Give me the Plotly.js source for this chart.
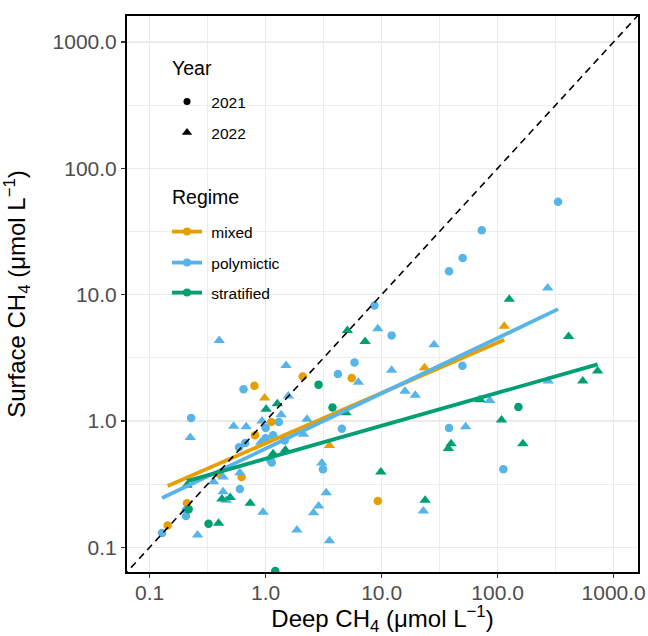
<!DOCTYPE html>
<html>
<head>
<meta charset="utf-8">
<script src="https://cdn.plot.ly/plotly-3.0.1.min.js"></script>
<style>html,body{margin:0;padding:0;background:#fff;}#chart{width:648px;height:636px;}</style>
</head>
<body>
<div id="chart"></div>
<script>
// ---- data ----
const mixed2021_x = [0.80, 1.12, 0.81, 0.62, 0.40, 0.21, 0.143, 2.09, 5.53, 9.27];
const mixed2021_y = [1.90, 0.98, 0.77, 0.36, 0.38, 0.223, 0.149, 2.25, 2.19, 0.233];
const mixed2022_x = [0.98, 23.4, 3.55, 114];
const mixed2022_y = [1.52, 2.64, 0.64, 5.63];

const poly2021_x = [0.645, 1.30, 1.0, 0.228, 0.59, 0.667, 1.0, 1.16, 1.13, 1.10, 1.46, 0.60, 0.206, 0.206, 0.128, 8.67, 12.2, 5.84, 4.2, 49.7, 4.54, 38.1, 3.12, 332, 73, 50, 38.1, 112];
const poly2021_y = [1.78, 0.98, 0.88, 1.055, 0.62, 0.67, 0.73, 0.77, 0.47, 0.49, 0.70, 0.29, 0.197, 0.177, 0.130, 8.2, 4.75, 2.91, 2.35, 2.74, 0.87, 0.88, 0.415, 54.4, 32.3, 19.5, 15.3, 0.415];
const poly2022_x = [0.398, 1.50, 1.57, 1.36, 0.53, 0.68, 0.93, 0.224, 0.91, 0.60, 0.43, 0.356, 0.43, 0.458, 0.95, 0.259, 1.86, 9.27, 28.3, 6.3, 12.2, 15.9, 19.5, 2.27, 2.12, 53, 3.05, 3.33, 2.86, 2.59, 3.55, 22.9, 270, 273, 85.5];
const poly2022_y = [4.34, 2.75, 1.58, 1.12, 0.91, 0.90, 1.0, 0.74, 0.68, 0.39, 0.36, 0.33, 0.275, 0.236, 0.19, 0.125, 0.137, 5.37, 4.01, 2.03, 2.52, 1.72, 1.60, 1.03, 0.785, 0.90, 0.466, 0.27, 0.212, 0.1875, 0.113, 0.194, 11.3, 2.07, 1.45];

const strat2021_x = [2.86, 3.77, 0.217, 0.322, 1.21, 151];
const strat2021_y = [1.94, 1.28, 0.20, 0.154, 0.065, 1.29];
const strat2022_x = [1.01, 1.26, 1.16, 1.48, 0.21, 0.42, 0.495, 0.736, 0.393, 5.07, 7.2, 4.92, 9.84, 23.7, 39.7, 37.6, 126, 409, 728, 542, 70.5, 108, 165];
const strat2022_y = [1.24, 1.37, 0.55, 0.59, 0.31, 0.241, 0.248, 0.223, 0.155, 5.2, 4.26, 1.16, 0.395, 0.236, 0.66, 0.605, 9.2, 4.66, 2.49, 2.07, 1.47, 1.02, 0.66];

// log-log linear fits per regime: log10(y) = intercept + slope * log10(x)
const regimes = ['mixed', 'polymictic', 'stratified'];
const fit_intercept = [-0.177, -0.219, -0.299];
const fit_slope = [0.399, 0.438, 0.261];

const years = ['2021', '2022'];
const tick_vals = [0.1, 1, 10, 100, 1000];
const tick_text = ['0.1', '1.0', '10.0', '100.0', '1000.0'];

// ---- styling ----
const regimeColor = {mixed: '#E69F00', polymictic: '#56B4E9', stratified: '#009E73'};
const FONT = '"Liberation Sans", Arial, Helvetica, sans-serif';
const groups = [
  {reg: 'mixed', yr: '2021', x: mixed2021_x, y: mixed2021_y},
  {reg: 'mixed', yr: '2022', x: mixed2022_x, y: mixed2022_y},
  {reg: 'polymictic', yr: '2021', x: poly2021_x, y: poly2021_y},
  {reg: 'polymictic', yr: '2022', x: poly2022_x, y: poly2022_y},
  {reg: 'stratified', yr: '2021', x: strat2021_x, y: strat2021_y},
  {reg: 'stratified', yr: '2022', x: strat2022_x, y: strat2022_y}
];

const traces = [];
groups.forEach(g => {
  const tri = g.yr === '2022';
  traces.push({
    type: 'scatter', mode: 'markers', x: g.x, y: g.y, showlegend: false, hoverinfo: 'skip',
    marker: {symbol: tri ? 'triangle-up' : 'circle', size: tri ? 10 : 8.5, color: regimeColor[g.reg], line: {width: 0}}
  });
});

// fit lines over each regime's x range
regimes.forEach((r, i) => {
  const xs = groups.filter(g => g.reg === r).reduce((a, g) => a.concat(g.x), []);
  const xmin = Math.min(...xs), xmax = Math.max(...xs);
  const fx = [xmin, xmax];
  const fy = fx.map(v => Math.pow(10, fit_intercept[i] + fit_slope[i] * Math.log10(v)));
  traces.push({type: 'scatter', mode: 'lines', x: fx, y: fy, showlegend: false, hoverinfo: 'skip',
    line: {color: regimeColor[r], width: 3.8}});
});

// 1:1 reference line
traces.push({type: 'scatter', mode: 'lines', x: [0.01, 100000], y: [0.01, 100000], showlegend: false, hoverinfo: 'skip',
  line: {color: 'black', width: 1.6, dash: '7px,5px'}});

// legend-only traces
const legendNames = ['legend', 'legend2', 'legend3', 'legend4', 'legend5'];
const NB = '\u00A0';
years.forEach((yr, i) => {
  traces.push({type: 'scatter', mode: 'markers', x: [null], y: [null], name: NB + yr, legend: legendNames[i], showlegend: true,
    marker: {symbol: i === 0 ? 'circle' : 'triangle-up', size: i === 0 ? 7 : 9, color: 'black'}});
});
regimes.forEach((r, i) => {
  traces.push({type: 'scatter', mode: 'lines+markers', x: [null], y: [null], name: NB + r, legend: legendNames[2 + i], showlegend: true,
    line: {color: regimeColor[r], width: 3.8}, marker: {symbol: 'circle', size: 8, color: regimeColor[r]}});
});

// plot area in pixels: left 127, right 638, top 16, bottom 572
const L = 127, R = 638, T = 16, B = 572;
const px = v => (v - L) / (R - L);
const py = v => (B - v) / (B - T);

function legendBox(yPix) {
  return {x: px(167), y: py(yPix), xanchor: 'left', yanchor: 'middle', bgcolor: 'rgba(0,0,0,0)', borderwidth: 0,
    font: {family: FONT, size: 15.5, color: '#000'}, itemwidth: 30, tracegroupgap: 0};
}

const minorVals = [-0.5, 0.5, 1.5, 2.5].map(e => Math.pow(10, e));

const axisCommon = {
  type: 'log', tickmode: 'array', tickvals: tick_vals, ticktext: tick_text,
  showgrid: true, gridcolor: '#EBEBEB', gridwidth: 1.4, zeroline: false,
  minor: {tickmode: 'array', tickvals: minorVals, showgrid: true, gridcolor: '#EDEDED', gridwidth: 1.1, ticklen: 0},
  showline: true, linecolor: '#000', linewidth: 2, mirror: true,
  ticks: 'outside', ticklen: 4, tickwidth: 1.3, tickcolor: '#333',
  tickfont: {family: FONT, size: 21, color: '#4D4D4D'}, automargin: false
};

const layout = {
  width: 648, height: 636,
  margin: {l: L, r: 648 - R, t: T, b: 636 - B},
  paper_bgcolor: '#fff', plot_bgcolor: '#fff',
  font: {family: FONT},
  xaxis: Object.assign({}, axisCommon, {
    range: [-1.195, 3.21], ticklabelstandoff: -3,
    title: {text: 'Deep CH<sub>4</sub> (μmol L<sup>−1</sup>)', font: {family: FONT, size: 24, color: '#000'}, standoff: 6}
  }),
  yaxis: Object.assign({}, axisCommon, {
    range: [-1.195, 3.205],
    title: {text: 'Surface CH<sub>4</sub> (μmol L<sup>−1</sup>)', font: {family: FONT, size: 24, color: '#000'}, standoff: 20}
  }),
  legend: legendBox(102),
  legend2: legendBox(133),
  legend3: legendBox(232),
  legend4: legendBox(263),
  legend5: legendBox(293),
  shapes: [
    {type: 'rect', xref: 'paper', yref: 'paper', x0: px(163), x1: px(265), y0: py(157), y1: py(47), fillcolor: '#fff', line: {width: 0}, layer: 'between'},
    {type: 'rect', xref: 'paper', yref: 'paper', x0: px(163), x1: px(293), y0: py(318), y1: py(177), fillcolor: '#fff', line: {width: 0}, layer: 'between'}
  ],
  annotations: [
    {text: 'Year', xref: 'paper', yref: 'paper', x: px(170), y: py(68), xanchor: 'left', yanchor: 'middle', showarrow: false, font: {family: FONT, size: 19.5, color: '#000'}},
    {text: 'Regime', xref: 'paper', yref: 'paper', x: px(170), y: py(197), xanchor: 'left', yanchor: 'middle', showarrow: false, font: {family: FONT, size: 19.5, color: '#000'}}
  ],
  showlegend: true
};

Plotly.newPlot('chart', traces, layout, {displayModeBar: false, staticPlot: true});
</script>
</body>
</html>
